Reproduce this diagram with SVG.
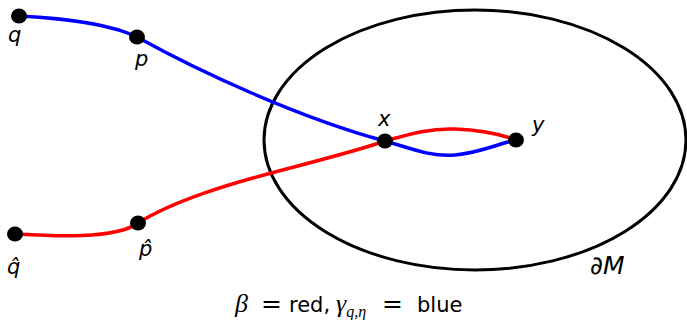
<svg xmlns="http://www.w3.org/2000/svg" width="687" height="320" viewBox="0 0 687 320">
<style>
.lbl{font-family:"DejaVu Sans","Liberation Sans",sans-serif;font-style:italic;font-size:21px;fill:#000}
.cap{font-family:"DejaVu Sans","Liberation Sans",sans-serif;font-size:21px;fill:#000}
.mth{font-family:"Liberation Serif","DejaVu Serif",serif;font-style:italic}
.eq{font-size:25px}
.dot{fill:#000}
.blue{fill:none;stroke:#0000ff;stroke-width:3.5;stroke-linecap:round}
.red{fill:none;stroke:#ff0000;stroke-width:3.5;stroke-linecap:round}
</style>
<rect width="687" height="320" fill="#fff"/>
<g id="boundary">
<ellipse cx="475" cy="140" rx="211" ry="130" fill="none" stroke="#000" stroke-width="3"/>
<text class="lbl" x="590" y="274" style="font-size:25px">∂M</text>
</g>
<g id="connectors">
<path class="blue" d="M19,16 C60,18 110,24 137,37 C200,72 300,118 385,141 C410,148 430,157 455,155 C480,153 500,143 516,140"/>
<path class="red" d="M15,234 C50,236 115,240 138,223 C175,200 230,184 275,172 C320,160 360,150 385,141 C410,134 430,128 455,129 C480,130 500,134 516,140"/>
</g>
<g id="q"><ellipse class="dot" cx="19" cy="16" rx="8" ry="7.5"/><text class="lbl" x="8" y="42">q</text></g>
<g id="p"><ellipse class="dot" cx="137" cy="37" rx="8" ry="7.5"/><text class="lbl" x="135" y="66">p</text></g>
<g id="qhat"><ellipse class="dot" cx="15" cy="234" rx="8" ry="7.5"/><text class="lbl" x="7" y="274">q̂</text></g>
<g id="phat"><ellipse class="dot" cx="138" cy="223" rx="8" ry="7.5"/><text class="lbl" x="139" y="256">p̂</text></g>
<g id="x"><ellipse class="dot" cx="385" cy="141" rx="8" ry="7.5"/><text class="lbl" x="378" y="126">x</text></g>
<g id="y"><ellipse class="dot" cx="516" cy="140" rx="8" ry="7.5"/><text class="lbl" x="532" y="132">y</text></g>
<g id="caption">
<text class="cap" y="312"><tspan class="mth" x="235" font-size="26">β</tspan><tspan class="eq" x="261">=</tspan><tspan x="289">red,</tspan><tspan class="mth" x="336" font-size="26">γ</tspan><tspan class="mth" font-size="16" dy="5">q,η</tspan><tspan class="eq" x="382" dy="-5">=</tspan><tspan x="417">blue</tspan></text>
</g>
</svg>
